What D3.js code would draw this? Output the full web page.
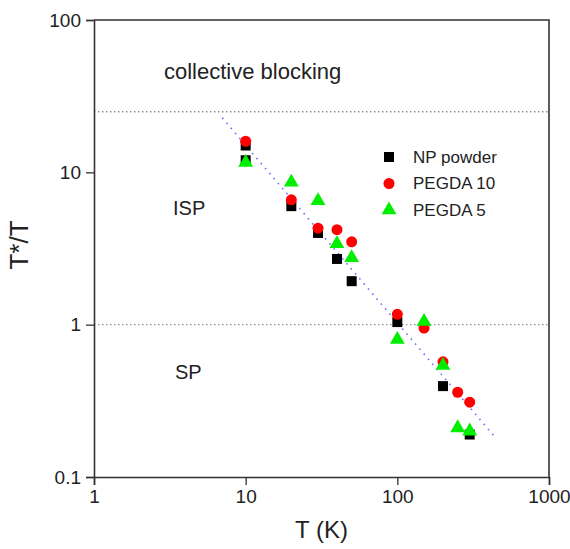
<!DOCTYPE html>
<html>
<head>
<meta charset="utf-8">
<script src="https://cdn.jsdelivr.net/npm/d3@7"></script>
<style>
  body { margin: 0; background: #fff; }
  text { font-family: "Liberation Sans", Arial, sans-serif; fill: #222; }
</style>
</head>
<body>
<script>
// data: [T (K), T*/T]
var npPowder = [[10, 15], [10, 12], [20, 6], [30, 4], [40, 2.7], [50, 1.93], [100, 1.04], [200, 0.395], [300, 0.19]];
var pegda10 = [[10, 16], [20, 6.6], [30, 4.3], [40, 4.2], [50, 3.5], [100, 1.17], [150, 0.95], [200, 0.57], [250, 0.36], [300, 0.31]];
var pegda5 = [[10, 11.6], [20, 8.6], [30, 6.5], [40, 3.4], [50, 2.75], [100, 0.8], [150, 1.05], [200, 0.54], [250, 0.21], [300, 0.2]];
var fitLine = [[7, 22.8], [430, 0.188]];
var boundaries = [25, 1];
var xMajor = [1, 10, 100, 1000];
var yMajor = [0.1, 1, 10, 100];
var legendNames = ["NP powder", "PEGDA 10", "PEGDA 5"];

var width = 570, height = 549;
var margin = {top: 20, right: 21, bottom: 72, left: 94};

var svg = d3.select("body").append("svg")
    .attr("width", width)
    .attr("height", height);

var x = d3.scaleLog().domain([1, 1000]).range([margin.left, width - margin.right]);
var y = d3.scaleLog().domain([0.1, 100]).range([height - margin.bottom, margin.top]);

// minor tick values 2..9 in each decade
function minors(majors) {
    var out = [];
    for (var i = 0; i < majors.length - 1; i++) {
        for (var k = 2; k <= 9; k++) out.push(majors[i] * k);
    }
    return out;
}

var axisColor = "#333";

// frame (top and right)
svg.append("path")
    .attr("d", "M" + x(1) + "," + y(100) + "H" + x(1000) + "V" + y(0.1))
    .attr("fill", "none")
    .attr("stroke", axisColor)
    .attr("stroke-width", 1.6);

// horizontal boundaries
svg.selectAll(".bound")
    .data(boundaries)
    .enter()
    .append("line")
    .attr("class", "bound")
    .attr("x1", x(1))
    .attr("x2", x(1000))
    .attr("y1", function(d) { return y(d); })
    .attr("y2", function(d) { return y(d); })
    .attr("stroke", "#8a8a8a")
    .attr("stroke-width", 1.4)
    .attr("stroke-dasharray", "1.4,2.6");

// fit line
svg.append("path")
    .datum(fitLine)
    .attr("d", d3.line().x(function(d) { return x(d[0]); }).y(function(d) { return y(d[1]); }))
    .attr("stroke", "#7070ff")
    .attr("stroke-width", 1.6)
    .attr("stroke-dasharray", "1.6,5")
    .attr("fill", "none");

// x axis
var gx = svg.append("g").attr("transform", "translate(0," + y(0.1) + ")");
gx.call(d3.axisBottom(x).tickValues(minors(xMajor)).tickSize(4).tickFormat(""));
gx.call(d3.axisBottom(x).tickValues(xMajor).tickSize(8).tickPadding(5).tickFormat(d3.format("")));

// y axis
var gy = svg.append("g").attr("transform", "translate(" + x(1) + ",0)");
gy.call(d3.axisLeft(y).tickValues(minors(yMajor)).tickSize(4).tickFormat(""));
gy.call(d3.axisLeft(y).tickValues(yMajor).tickSize(8).tickPadding(5).tickFormat(function(d) { return d3.format("")(d); }));

svg.selectAll(".domain").attr("stroke", axisColor).attr("stroke-width", 1.6);
svg.selectAll(".tick line").attr("stroke", axisColor).attr("stroke-width", 1.3);
svg.selectAll(".tick text")
    .style("font-family", "'Liberation Sans', Arial, sans-serif")
    .style("font-size", "19px")
    .attr("fill", "#222");

// data markers
var sym = {
    square: d3.symbol().type(d3.symbolSquare).size(100),
    circle: d3.symbol().type(d3.symbolCircle).size(95),
    triangle: d3.symbol().type(d3.symbolTriangle).size(95)
};

function drawSeries(data, shape, color) {
    svg.append("g")
        .selectAll("path")
        .data(data)
        .enter()
        .append("path")
        .attr("d", sym[shape])
        .attr("transform", function(d) { return "translate(" + x(d[0]) + "," + y(d[1]) + ")"; })
        .attr("fill", color);
}

drawSeries(npPowder, "square", "#000");
drawSeries(pegda10, "circle", "#ff0000");
drawSeries(pegda5, "triangle", "#00ee00");

// legend
var legendShapes = ["square", "circle", "triangle"];
var legendColors = ["#000", "#ff0000", "#00ee00"];
var legend = svg.append("g");
legendNames.forEach(function(name, i) {
    legend.append("path")
        .attr("d", sym[legendShapes[i]])
        .attr("transform", "translate(389," + (157 + 26.5 * i) + ")")
        .attr("fill", legendColors[i]);
    legend.append("text")
        .attr("x", 413)
        .attr("y", 157 + 26.5 * i)
        .attr("dy", "0.35em")
        .style("font-size", "17px")
        .text(name);
});

// region labels
svg.append("text").attr("x", 164).attr("y", 79).style("font-size", "22px").text("collective blocking");
svg.append("text").attr("x", 173).attr("y", 215).style("font-size", "20px").text("ISP");
svg.append("text").attr("x", 175).attr("y", 379).style("font-size", "20px").text("SP");

// axis titles
svg.append("text")
    .attr("x", (x(1) + x(1000)) / 2)
    .attr("y", 538)
    .attr("text-anchor", "middle")
    .style("font-size", "24px")
    .text("T (K)");

svg.append("text")
    .attr("transform", "translate(28,245) rotate(-90)")
    .attr("text-anchor", "middle")
    .style("font-size", "26px")
    .text("T*/T");
</script>
</body>
</html>
